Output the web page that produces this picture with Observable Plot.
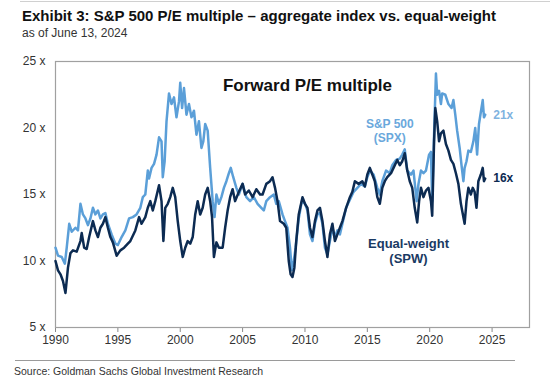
<!DOCTYPE html>
<html>
<head>
<meta charset="utf-8">
<script src="https://cdn.jsdelivr.net/npm/d3@7"></script>
<script src="https://cdn.jsdelivr.net/npm/@observablehq/plot@0.6"></script>
<style>
  body { margin: 0; background: #fff; }
  #wrap { position: relative; width: 550px; height: 382px; overflow: hidden; background: #fff;
          font-family: "Liberation Sans", Arial, sans-serif; }
  #chart { position: absolute; left: 0; top: 0; }
  .rule-top { position: absolute; left: 20px; right: 0; top: 1px; border-top: 1px solid #d0d0d0; }
  .title { position: absolute; left: 22px; top: 7px; font-size: 15px; font-weight: bold; color: #111; white-space: nowrap; }
  .subtitle { position: absolute; left: 22px; top: 26px; font-size: 12px; color: #333; white-space: nowrap; }
  .rule-bottom { position: absolute; left: 15px; width: 500px; top: 360px; border-top: 1.5px solid #9a9a9a; }
  .source { position: absolute; left: 14px; top: 365px; font-size: 10.5px; color: #333; white-space: nowrap; }
</style>
</head>
<body>
<div id="wrap">
  <div class="rule-top"></div>
  <div class="title">Exhibit 3: S&amp;P 500 P/E multiple – aggregate index vs. equal-weight</div>
  <div class="subtitle">as of June 13, 2024</div>
  <div id="chart"></div>
  <div class="rule-bottom"></div>
  <div class="source">Source: Goldman Sachs Global Investment Research</div>
</div>
<script>
// ---- Data ----
const spxYears = [
  1990.0,1990.2,1990.5,1990.75,1990.9,1991.1,1991.3,1991.6,1991.8,1992.0,1992.2,1992.4,1992.6,1992.8,
  1993.0,1993.2,1993.4,1993.6,1993.8,1994.0,1994.2,1994.5,1994.8,1995.0,1995.3,1995.6,1995.9,1996.2,
  1996.5,1996.8,1997.0,1997.2,1997.4,1997.5,1997.7,1997.9,1998.1,1998.3,1998.5,1998.6,1998.75,1998.9,
  1999.1,1999.3,1999.5,1999.7,1999.9,2000.0,2000.15,2000.3,2000.5,2000.7,2000.9,2001.1,2001.3,2001.5,
  2001.7,2001.85,2002.0,2002.2,2002.4,2002.6,2002.75,2002.9,2003.1,2003.3,2003.5,2003.7,2003.9,2004.05,
  2004.25,2004.5,2004.7,2005.0,2005.3,2005.6,2005.9,2006.2,2006.5,2006.7,2006.9,2007.2,2007.5,2007.7,
  2007.9,2008.2,2008.4,2008.6,2008.8,2008.95,2009.1,2009.25,2009.5,2009.75,2010.0,2010.2,2010.4,2010.6,
  2010.8,2011.0,2011.2,2011.4,2011.6,2011.8,2012.0,2012.2,2012.4,2012.6,2012.8,2013.0,2013.3,2013.6,
  2013.9,2014.2,2014.5,2014.8,2015.0,2015.2,2015.5,2015.8,2016.0,2016.2,2016.5,2016.8,2017.0,2017.3,
  2017.6,2017.8,2018.0,2018.2,2018.5,2018.7,2018.95,2019.1,2019.3,2019.5,2019.7,2019.95,2020.1,2020.2,
  2020.35,2020.5,2020.6,2020.75,2020.9,2021.0,2021.25,2021.5,2021.75,2021.9,2022.05,2022.2,2022.4,
  2022.55,2022.7,2022.8,2022.95,2023.1,2023.3,2023.5,2023.65,2023.8,2023.95,2024.15,2024.25,2024.35,2024.45
];
const spxValues = [
  11.0,10.4,10.3,9.8,11.0,12.8,12.2,12.5,12.3,14.3,13.5,13.2,12.7,13.2,
  14.0,13.5,13.8,13.2,13.5,13.6,12.8,12.0,11.3,11.2,11.8,12.3,13.2,13.3,
  13.5,14.0,14.8,15.0,16.8,16.2,17.0,17.3,18.0,19.3,19.0,16.3,17.5,20.5,
  22.6,21.8,22.3,20.8,22.0,23.4,21.5,23.0,21.0,21.8,20.8,21.3,19.5,20.5,
  18.5,19.0,20.3,19.8,17.0,14.5,13.3,15.0,14.3,14.8,15.5,16.0,16.6,17.0,
  16.3,15.5,15.0,15.8,14.8,14.5,14.8,14.3,14.0,13.8,14.5,14.8,15.0,14.3,
  14.5,13.5,13.0,12.5,11.0,9.3,10.0,11.0,13.2,14.5,14.3,13.8,12.0,11.5,
  12.8,13.5,13.6,12.8,11.0,10.5,11.5,12.5,11.8,12.3,12.0,12.8,14.0,14.6,
  15.2,15.5,15.8,15.6,16.3,16.8,16.5,15.5,15.0,16.0,16.8,16.6,17.2,17.6,
  17.7,18.0,18.4,16.8,16.5,16.8,14.5,15.8,16.8,16.6,16.8,18.0,18.2,14.5,
  19.5,24.1,22.5,22.8,21.8,22.6,22.5,21.8,21.5,22.1,21.0,19.8,18.5,
  17.2,16.0,17.0,17.5,18.3,18.2,19.0,20.0,18.0,20.3,21.5,22.1,20.8,21.0
];

const spwYears = [
  1990.0,1990.2,1990.4,1990.6,1990.8,1991.0,1991.2,1991.4,1991.7,1992.0,1992.1,1992.3,1992.5,1992.7,
  1993.0,1993.2,1993.4,1993.6,1993.8,1994.0,1994.2,1994.4,1994.6,1994.9,1995.2,1995.5,1995.8,1996.0,
  1996.4,1996.7,1996.9,1997.2,1997.4,1997.6,1997.8,1998.0,1998.3,1998.5,1998.65,1998.8,1999.0,1999.2,
  1999.4,1999.6,1999.8,2000.0,2000.2,2000.4,2000.6,2000.8,2001.0,2001.2,2001.4,2001.6,2001.8,2002.0,
  2002.2,2002.4,2002.55,2002.7,2002.9,2003.1,2003.4,2003.6,2003.8,2004.0,2004.2,2004.4,2004.7,2005.0,
  2005.2,2005.5,2005.8,2006.1,2006.4,2006.6,2006.9,2007.2,2007.4,2007.6,2007.8,2008.0,2008.3,2008.5,
  2008.7,2008.85,2009.0,2009.15,2009.3,2009.5,2009.8,2010.0,2010.2,2010.4,2010.6,2010.8,2011.0,2011.2,
  2011.4,2011.6,2011.8,2012.0,2012.2,2012.4,2012.6,2012.8,2013.0,2013.3,2013.6,2013.8,2014.0,2014.3,
  2014.6,2014.8,2015.0,2015.2,2015.4,2015.6,2015.8,2016.0,2016.2,2016.4,2016.6,2016.9,2017.1,2017.4,
  2017.6,2017.8,2018.0,2018.2,2018.4,2018.6,2018.8,2019.0,2019.15,2019.3,2019.5,2019.7,2019.9,2020.1,
  2020.2,2020.35,2020.45,2020.6,2020.75,2020.9,2021.1,2021.3,2021.5,2021.7,2021.9,2022.1,2022.3,2022.5,
  2022.6,2022.8,2022.95,2023.1,2023.3,2023.45,2023.6,2023.75,2023.9,2024.1,2024.25,2024.35,2024.45
];
const spwValues = [
  10.0,9.3,9.0,8.5,7.6,9.5,10.6,10.8,10.7,11.5,12.1,11.0,10.9,11.8,
  13.0,12.3,11.8,12.5,12.8,13.3,12.5,11.8,11.4,10.4,10.8,11.0,11.3,11.5,
  12.3,13.3,12.8,13.3,14.0,14.5,13.8,14.5,15.7,14.5,11.5,14.0,14.3,14.8,
  15.5,14.8,13.0,11.5,10.3,11.0,11.5,11.3,11.8,13.5,14.5,13.5,14.0,15.0,
  15.5,14.5,13.3,10.3,11.4,11.0,11.0,12.5,13.8,14.8,15.4,14.5,15.2,15.8,
  15.0,15.3,14.8,15.4,15.0,15.0,15.8,16.0,16.3,15.5,14.5,13.0,12.8,12.5,
  10.0,9.0,8.8,9.5,11.5,13.5,14.8,14.3,14.0,12.5,11.8,13.0,13.8,14.0,
  13.0,11.5,10.3,12.0,12.8,11.5,12.0,12.5,13.0,14.0,14.8,15.2,16.0,15.8,
  16.0,15.6,16.5,17.0,16.5,16.0,14.8,14.3,15.5,16.0,16.3,16.6,17.0,17.6,
  17.2,17.5,18.1,16.8,16.0,15.5,14.0,12.9,14.5,15.5,14.8,15.3,15.5,14.5,
  13.4,19.0,21.5,20.5,19.0,19.6,19.8,18.8,18.3,17.6,17.3,16.6,15.8,14.3,
  13.8,12.8,14.5,15.5,15.0,15.5,15.2,14.0,16.0,16.5,17.0,16.0,16.2
];

const xTicks = [1990, 1995, 2000, 2005, 2010, 2015, 2020, 2025];
const yTicks = [5, 10, 15, 20, 25];
const seriesNames = ["S&P 500\n(SPX)", "Equal-weight\n(SPW)"];
const seriesLabelX = [2016.8, 2018.3];
const seriesLabelY = [19.8, 10.8];
const chartLabel = "Forward P/E multiple";

// ---- Build tables ----
const spx = spxYears.map((x, i) => ({ x, v: spxValues[i] }));
const spw = spwYears.map((x, i) => ({ x, v: spwValues[i] }));
const spxLast = spx[spx.length - 1];
const spwLast = spw[spw.length - 1];

const LIGHT = "#5b9fd8";
const DARK = "#0c2b52";

const chart = Plot.plot({
  width: 550,
  height: 350,
  marginLeft: 55,
  marginRight: 21,
  marginTop: 61,
  marginBottom: 23,
  style: { fontFamily: "'Liberation Sans', Arial, sans-serif", fontSize: "12px", color: "#333", background: "transparent" },
  x: { domain: [1990, 2028], label: null },
  y: { domain: [5, 25], label: null },
  marks: [
    Plot.axisX({ ticks: xTicks, tickFormat: d => String(d), tickSize: 5, tickPadding: 3, stroke: "#888", fontSize: 12, color: "#333", label: null }),
    Plot.axisY({ ticks: yTicks, tickFormat: d => d + " x", tickSize: 0, tickPadding: 10, fontSize: 12, label: null }),
    Plot.frame({ stroke: "#a0a0a0", strokeWidth: 1.2 }),
    Plot.line(spx, { x: "x", y: "v", stroke: LIGHT, strokeWidth: 2.5, strokeLinejoin: "round" }),
    Plot.line(spw, { x: "x", y: "v", stroke: DARK, strokeWidth: 2.5, strokeLinejoin: "round" }),
    Plot.text([chartLabel], { frameAnchor: "top", dx: 15, dy: 17, text: d => d, fontSize: 17, fontWeight: "bold", fill: "#111" }),
    Plot.text([0], { x: seriesLabelX[0], y: seriesLabelY[0], text: () => seriesNames[0], fontSize: 12, fontWeight: "bold", fill: "#6aa8dc", lineHeight: 1.17 }),
    Plot.text([1], { x: seriesLabelX[1], y: seriesLabelY[1], text: () => seriesNames[1], fontSize: 13, fontWeight: "bold", fill: "#1a3a63", lineHeight: 1.2 }),
    Plot.text([spxLast], { x: "x", y: "v", text: d => Math.round(d.v) + "x", textAnchor: "start", dx: 8, fontSize: 12, fontWeight: "bold", fill: "#7fb3e0" }),
    Plot.text([spwLast], { x: "x", y: "v", text: d => Math.round(d.v) + "x", textAnchor: "start", dx: 8, fontSize: 12, fontWeight: "bold", fill: DARK })
  ]
});
document.getElementById("chart").appendChild(chart);
</script>
</body>
</html>
